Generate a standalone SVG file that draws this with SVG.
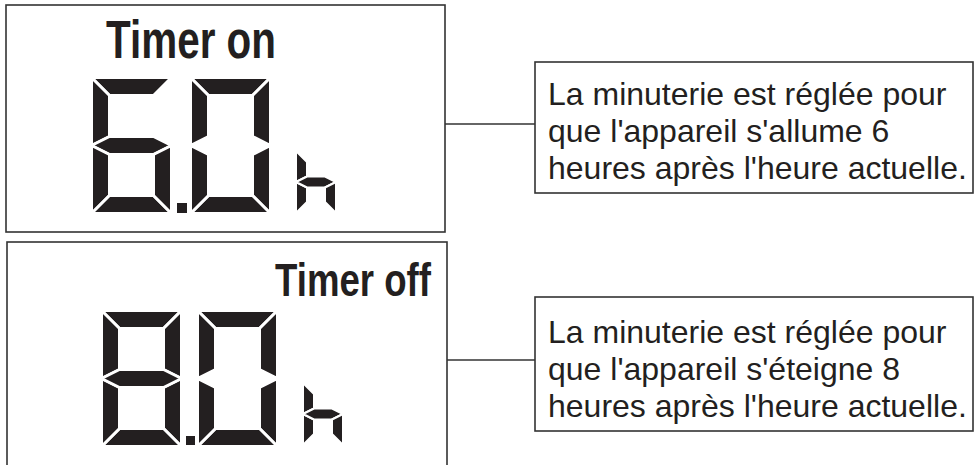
<svg xmlns="http://www.w3.org/2000/svg" xmlns:xlink="http://www.w3.org/1999/xlink" width="977" height="465" viewBox="0 0 977 465">
<style>
.frame{fill:none;stroke:#333;stroke-width:1.6}
.conn{fill:none;stroke:#333;stroke-width:1.5}
.lbl{font-family:"Liberation Sans",Arial,sans-serif;font-size:32px;fill:#231f20}
.title{font-family:"Liberation Sans",Arial,sans-serif;font-weight:bold;fill:#231f20}
</style>
<defs>
<polygon id="sa" points="-1.5,-1.5 78.5,-1.5 60.5,16.5 16.5,16.5"/>
<polygon id="sb" points="78.5,-1.5 78.5,66.5 60.5,57.5 60.5,16.5"/>
<polygon id="sc" points="78.5,66.5 78.5,134.5 60.5,116.5 60.5,75.5"/>
<polygon id="sd" points="-1.5,134.5 78.5,134.5 60.5,116.5 16.5,116.5"/>
<polygon id="se" points="-1.5,66.5 16.5,75.5 16.5,116.5 -1.5,134.5"/>
<polygon id="sf" points="-1.5,-1.5 16.5,16.5 16.5,57.5 -1.5,66.5"/>
<polygon id="sg" points="-1.5,66.5 16.5,57.5 60.5,57.5 78.5,66.5 60.5,75.5 16.5,75.5"/>
<g id="hchar">
<polygon points="-1,-1 10,10 10,24.5 -1,30"/>
<polygon points="-1,30 10,35.5 10,50 -1,61"/>
<polygon points="-1,30 10,24.5 28,24.5 39,30 28,35.5 10,35.5"/>
<polygon points="39,30 39,61 28,50 28,35.5"/>
</g>
</defs>

<g id="panel-on">
<rect class="frame" x="6" y="5" width="439" height="227"/>
<text class="title" x="106" y="57.5" font-size="53" textLength="170" lengthAdjust="spacingAndGlyphs">Timer on</text>
<g fill="#231f20" stroke="#fff" stroke-width="3" stroke-linejoin="round">
<g transform="translate(93,79)">
<use xlink:href="#sa"/><use xlink:href="#sf"/><use xlink:href="#sg"/><use xlink:href="#se"/><use xlink:href="#sd"/><use xlink:href="#sc"/>
</g>
<g transform="translate(192,79)">
<use xlink:href="#sa"/><use xlink:href="#sb"/><use xlink:href="#sc"/><use xlink:href="#sd"/><use xlink:href="#se"/><use xlink:href="#sf"/>
</g>
</g>
<rect x="177" y="203" width="10" height="10" fill="#231f20"/>
<g fill="#231f20" stroke="#fff" stroke-width="2" stroke-linejoin="round" transform="translate(297,152)">
<use xlink:href="#hchar"/>
</g>
</g>

<g id="panel-off">
<rect class="frame" x="7" y="242" width="440" height="232"/>
<text class="title" x="275" y="296" font-size="46.5" textLength="156" lengthAdjust="spacingAndGlyphs">Timer off</text>
<g fill="#231f20" stroke="#fff" stroke-width="3" stroke-linejoin="round">
<g transform="translate(103,312)">
<use xlink:href="#sa"/><use xlink:href="#sb"/><use xlink:href="#sc"/><use xlink:href="#sd"/><use xlink:href="#se"/><use xlink:href="#sf"/><use xlink:href="#sg"/>
</g>
<g transform="translate(199,312)">
<use xlink:href="#sa"/><use xlink:href="#sb"/><use xlink:href="#sc"/><use xlink:href="#sd"/><use xlink:href="#se"/><use xlink:href="#sf"/>
</g>
</g>
<rect x="186" y="436" width="9" height="9" fill="#231f20"/>
<g fill="#231f20" stroke="#fff" stroke-width="2" stroke-linejoin="round" transform="translate(304,384)">
<use xlink:href="#hchar"/>
</g>
</g>

<g id="note-on">
<rect class="frame" x="535" y="62" width="438" height="131"/>
<text class="lbl" x="548" y="104.5">La minuterie est réglée pour</text>
<text class="lbl" x="548" y="141.5">que l'appareil s'allume 6</text>
<text class="lbl" x="548" y="178.5">heures après l'heure actuelle.</text>
</g>

<g id="note-off">
<rect class="frame" x="535" y="297" width="438" height="134"/>
<text class="lbl" x="548" y="343">La minuterie est réglée pour</text>
<text class="lbl" x="548" y="380">que l'appareil s'éteigne 8</text>
<text class="lbl" x="548" y="417">heures après l'heure actuelle.</text>
</g>

<g id="connectors">
<line class="conn" x1="445" y1="124" x2="535" y2="124"/>
<line class="conn" x1="447" y1="360" x2="535" y2="360"/>
</g>
</svg>
